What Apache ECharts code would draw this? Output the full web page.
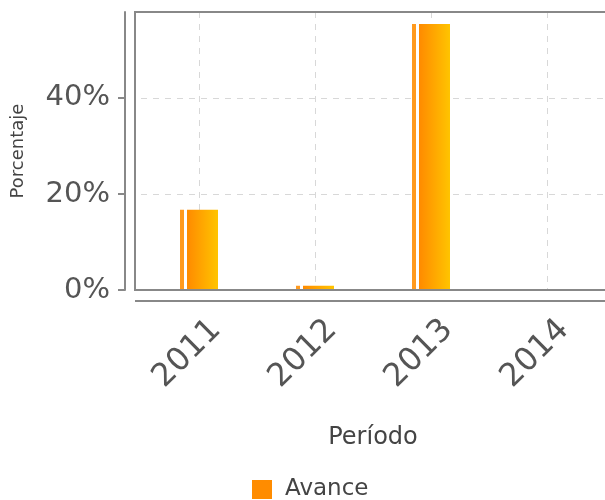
<!DOCTYPE html>
<html>
<head>
<meta charset="utf-8">
<script src="https://cdn.jsdelivr.net/npm/echarts@6/dist/echarts.min.js"></script>
<style>html,body{margin:0;padding:0;background:#fff}#c{width:605px;height:500px}</style>
</head>
<body>
<div id="c"></div>
<script>
const categories = ['2011', '2012', '2013', '2014'];
const avance = [16.7, 0.9, 55.4, 0];
const yTicks = [0, 20, 40];
const seriesName = 'Avance';
const xTitle = 'Período';
const yTitle = 'Porcentaje';

const chart = echarts.init(document.getElementById('c'));
const font = 'DejaVu Sans';
const barGradient = new echarts.graphic.LinearGradient(0, 0, 1, 0, [
  {offset: 0, color: '#FF9A1E'},
  {offset: 0.1, color: '#FF9A1E'},
  {offset: 0.1, color: '#FFFFFF'},
  {offset: 0.18, color: '#FFFFFF'},
  {offset: 0.18, color: '#FF8A00'},
  {offset: 1, color: '#FFC400'}
]);
chart.setOption({
  animation: false,
  backgroundColor: '#fff',
  textStyle: {fontFamily: font},
  grid: [
    {left: 141, right: 0, top: 12, bottom: 210, outerBoundsMode: 'none', containLabel: false},
    {left: 158, right: -17, top: 12, bottom: 210, outerBoundsMode: 'none', containLabel: false}
  ],
  legend: {
    top: 473, left: 247,
    data: [{name: seriesName, icon: 'rect', itemStyle: {color: '#FF8C00'}}],
    itemWidth: 20, itemHeight: 19, itemGap: 10,
    textStyle: {fontSize: 23, color: '#444', fontFamily: font, padding: [0, 0, 0, 8]}
  },
  xAxis: [{
    type: 'category', data: categories, offset: 11, gridIndex: 0,
    axisLine: {show: false}, axisTick: {show: false},
    splitLine: {show: true, alignWithLabel: true, lineStyle: {color: '#d8d8d8', type: [6, 6], width: 1}},
    axisLabel: {show: false},
    name: xTitle, nameLocation: 'middle', nameGap: 125,
    nameTextStyle: {fontSize: 24, color: '#444', fontFamily: font}
  }, {
    type: 'category', data: categories, offset: 11, gridIndex: 1,
    axisLine: {show: false}, axisTick: {show: false}, splitLine: {show: false},
    axisLabel: {rotate: 45, fontSize: 32, color: '#555', margin: 24, fontFamily: font}
  }],
  yAxis: [{
    type: 'value', min: 0, max: 57.9, interval: 20, offset: 16, gridIndex: 0,
    axisLine: {show: true, lineStyle: {color: '#888', width: 2}},
    axisTick: {show: true, length: 7, lineStyle: {color: '#888', width: 2}},
    splitLine: {show: true, lineStyle: {color: '#d8d8d8', type: [6, 6], width: 1}},
    axisLabel: {
      fontSize: 29, color: '#555', margin: 15, fontFamily: font, showMaxLabel: false,
      formatter: v => yTicks.includes(v) ? v + '%' : ''
    },
    name: yTitle, nameLocation: 'middle', nameGap: 98, nameRotate: 90,
    nameTextStyle: {fontSize: 18, color: '#444', fontFamily: font}
  }, {
    type: 'value', min: 0, max: 57.9, gridIndex: 1, show: false
  }],
  series: [{
    name: seriesName, type: 'bar', data: avance, barWidth: 38,
    xAxisIndex: 0, yAxisIndex: 0,
    itemStyle: {color: barGradient}
  }],
  graphic: [
    {type: 'rect', shape: {x: 135, y: 12, width: 480, height: 278}, z: 100,
     style: {fill: 'none', stroke: '#888', lineWidth: 2}, silent: true},
    {type: 'line', shape: {x1: 135, y1: 301, x2: 605, y2: 301}, z: 100,
     style: {stroke: '#888', lineWidth: 2}, silent: true}
  ]
});
</script>
</body>
</html>
